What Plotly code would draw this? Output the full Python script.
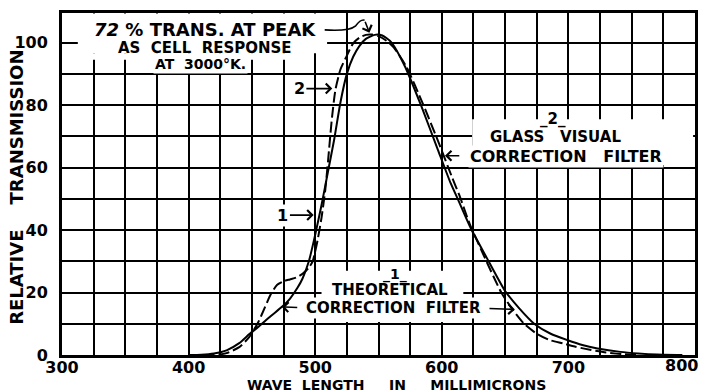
import plotly.graph_objects as go

# ---- data ----
wl_theoretical = [400, 410, 420, 430, 440, 448, 455, 465, 474, 480, 486, 490, 495, 500, 505, 510,
                  515, 520, 525, 530, 535, 540, 547, 553, 560, 571, 584, 597, 607, 613, 623, 635,
                  650, 661, 673, 686, 699, 711, 723, 741, 755, 770, 790]
tr_theoretical = [0, 0.1, 0.5, 1.5, 3.8, 6.7, 9, 12.5, 15.5, 18, 21.5, 24.5, 30, 38.5, 48, 58.5,
                  69, 81, 90, 95.5, 99, 101.2, 102.5, 102.3, 100.2, 92.3, 79.5, 65.6, 55, 49.6, 40.5, 31.5,
                  20.5, 15, 10, 6.8, 4.8, 3.2, 2.1, 1.0, 0.5, 0.15, 0]

wl_glass = [400, 420, 430, 440, 448, 455, 460, 465, 470, 475, 480, 485, 490, 495, 498, 502, 505, 508,
            511, 513, 516, 520, 524, 530, 535, 540, 545, 550, 556, 562, 572, 585, 598, 608, 614, 622,
            633, 647, 656, 665, 675, 685, 696, 705, 718, 730, 742, 755]
tr_glass = [0, 0, 0.6, 2.5, 5.8, 10.5, 15, 19.5, 22.5, 23.6, 24.2, 24.8, 26, 28, 30, 37, 44, 53,
            66, 75, 85, 91.5, 95, 99.8, 101.6, 102.5, 102.6, 102.1, 100.7, 98.5, 92.3, 80.5, 67.5, 57, 51, 42,
            32, 20, 14.5, 10, 6.8, 4.8, 3.7, 2.7, 1.6, 0.8, 0.3, 0]

x_ticks = [300, 400, 500, 600, 700, 800]
x_tick_labels = ["300", "400", "500", "600", "700", "800"]
y_ticks = [0, 20, 40, 60, 80, 100]
y_tick_labels = ["0", "20", "40", "60", "80", "100"]

FONT = "DejaVu Sans"
NB = "\u00a0"

fig = go.Figure()
fig.add_trace(go.Scatter(x=wl_glass, y=tr_glass, mode="lines",
                         line=dict(color="black", width=2, dash="11px,4px", shape="spline", smoothing=0.6),
                         showlegend=False, hoverinfo="skip"))
fig.add_trace(go.Scatter(x=wl_theoretical, y=tr_theoretical, mode="lines",
                         line=dict(color="black", width=2, shape="spline", smoothing=0.6),
                         showlegend=False, hoverinfo="skip"))

grid = dict(showgrid=True, gridcolor="black", gridwidth=1.6)
# the last x label sits against the right edge, so it is placed separately (below)
fig.update_xaxes(range=[300, 800], tickvals=x_ticks[:-1], ticktext=x_tick_labels[:-1], ticks="",
                 showline=True, mirror=True, linecolor="black", linewidth=3,
                 zeroline=False, minor=dict(dtick=25, showgrid=True, gridcolor="black", gridwidth=1.6),
                 ticklabelstandoff=-4,
                 tickfont=dict(family=FONT, size=16, color="black", weight="bold"), **grid)
fig.update_yaxes(range=[0, 109.5], tickvals=y_ticks, ticktext=y_tick_labels, ticks="",
                 showline=True, mirror=True, linecolor="black", linewidth=3,
                 zeroline=False, minor=dict(dtick=10, showgrid=True, gridcolor="black", gridwidth=1.6),
                 ticklabelstandoff=8,
                 tickfont=dict(family=FONT, size=16, color="black", weight="bold"), **grid)
fig.add_annotation(x=x_ticks[-1], y=-0.032, xref="x", yref="paper", text=x_tick_labels[-1],
                   showarrow=False, xanchor="right", yanchor="middle", xshift=5,
                   font=dict(family=FONT, size=16, color="black", weight="bold"))

# white boxes hiding grid behind lettering
white_boxes = [
    (312.5, 509.4, 96.6, 109.3),
    (312.5, 497.5, 94.5, 96.6),
    (624, 798.5, 60.8, 75.5),
    (505, 617, 10.6, 27.0),
]
for x0, x1, y0, y1 in white_boxes:
    fig.add_shape(type="rect", x0=x0, x1=x1, y0=y0, y1=y1, xref="x", yref="y",
                  fillcolor="white", line=dict(width=0), layer="between")

# curved pointer from "PEAK"
fig.add_shape(type="path", xref="x", yref="y",
              path="M 507.5,104.1 Q 527,103.6 532,105.4 Q 536,107.6 539,107.2",
              line=dict(color="black", width=1.6), layer="above")

def txt(x, y, s, size, bg=None, **kw):
    fig.add_annotation(x=x, y=y, xref="x", yref="y", text=s, showarrow=False,
                       font=dict(family=FONT, size=size, color="black", weight="bold"),
                       bgcolor=bg, borderpad=1, **kw)

def arrow(x, y, ax, ay, text="", size=16, bg=None):
    fig.add_annotation(x=x, y=y, ax=ax, ay=ay, xref="x", yref="y", axref="x", ayref="y",
                       text=text, showarrow=True, arrowhead=4, arrowsize=1.2, arrowwidth=1.6,
                       arrowcolor="black", bgcolor=bg, borderpad=1,
                       font=dict(family=FONT, size=size, color="black", weight="bold"))

txt(413.2, 104.3, "<i>72</i>" + NB + "%" + NB + "TRANS." + NB + "AT" + NB + "PEAK", 18)
txt(413.2, 98.3, "AS" + NB * 2 + "CELL" + NB * 2 + "RESPONSE", 15)
txt(409.5, 93.1, "AT" + NB * 2 + "3000°K.", 14, bg="white")
arrow(542.8, 103.2, 539.0, 107.2)

arrow(513.5, 85.3, 487.5, 85.3, text="2", bg="white")
arrow(498.8, 44.8, 474.5, 44.8, text="1", bg="white")

txt(690, 69.8, "GLASS" + NB * 3 + "VISUAL", 15, bg="white")
txt(698, 63.6, "CORRECTION" + NB * 3 + "FILTER", 16, bg="white")
txt(688, 75.6, "_2_", 15)
arrow(602.5, 63.8, 615.0, 63.8)

txt(559, 20.8, "THEORETICAL", 15, bg="white")
txt(561.5, 15.0, "CORRECTION" + NB * 2 + "FILTER", 15, bg="white")
txt(563, 25.9, "_1_", 14)
arrow(473.7, 15.4, 487.0, 15.2)
arrow(657.7, 14.6, 636.5, 14.9)

# axis titles
fig.add_annotation(x=0.528, y=-0.088, xref="paper", yref="paper", showarrow=False,
                   xanchor="center", yanchor="middle",
                   text="WAVE" + NB * 2 + "LENGTH" + NB * 5 + "IN" + NB * 5 + "MILLIMICRONS",
                   font=dict(family=FONT, size=14, color="black", weight="bold"))
fig.add_annotation(x=-0.072, y=0.49, xref="paper", yref="paper", showarrow=False, textangle=-90,
                   xanchor="center", yanchor="middle",
                   text="RELATIVE" + NB * 4 + "TRANSMISSION",
                   font=dict(family=FONT, size=18, color="black", weight="bold"))

fig.update_layout(width=706, height=392, margin=dict(l=62, r=8, t=13, b=37),
                  paper_bgcolor="white", plot_bgcolor="white", showlegend=False)

fig.write_html("out.html", config={"displayModeBar": False},
               post_script="document.body.style.margin='0';")
